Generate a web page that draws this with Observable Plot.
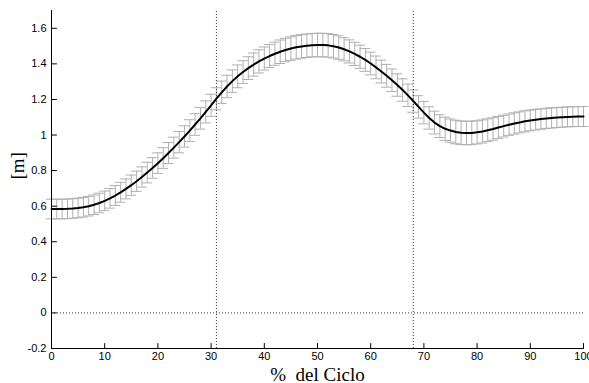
<!DOCTYPE html>
<html>
<head>
<meta charset="utf-8">
<script src="https://cdn.jsdelivr.net/npm/d3@7"></script>
<script src="https://cdn.jsdelivr.net/npm/@observablehq/plot@0.6"></script>
<style>
  html, body { margin: 0; padding: 0; background: #fff; }
  #chart svg { display: block; }
</style>
</head>
<body>
<div id="chart"></div>
<script>
// % of cycle (0..100)
const cyclePct = d3.range(0, 101);
// mean value [m], one per % of cycle
const meanValues = [
  0.584, 0.584, 0.584, 0.585, 0.587, 0.590, 0.594, 0.600, 0.608, 0.618,
  0.630, 0.644, 0.660, 0.678, 0.697, 0.718, 0.740, 0.764, 0.789, 0.815,
  0.842, 0.870, 0.899, 0.929, 0.960, 0.992, 1.025, 1.059, 1.094, 1.130,
  1.167, 1.204, 1.240, 1.273, 1.303, 1.330, 1.354, 1.376, 1.396, 1.414,
  1.430, 1.444, 1.457, 1.468, 1.478, 1.486, 1.493, 1.498, 1.502, 1.505,
  1.506, 1.506, 1.504, 1.499, 1.492, 1.482, 1.470, 1.456, 1.440, 1.422,
  1.402, 1.380, 1.357, 1.333, 1.308, 1.281, 1.253, 1.223, 1.191, 1.158,
  1.126, 1.096, 1.070, 1.050, 1.035, 1.025, 1.017, 1.013, 1.011, 1.012,
  1.015, 1.020, 1.027, 1.034, 1.042, 1.050, 1.058, 1.065, 1.071, 1.077,
  1.082, 1.086, 1.090, 1.093, 1.096, 1.098, 1.100, 1.102, 1.103, 1.104,
  1.104
];
// standard deviation (error bar half-height)
const sdValues = [
  0.055, 0.055, 0.055, 0.055, 0.055, 0.055, 0.055, 0.055, 0.055, 0.055,
  0.055, 0.055, 0.056, 0.056, 0.056, 0.057, 0.057, 0.057, 0.058, 0.058,
  0.058, 0.059, 0.059, 0.059, 0.060, 0.060, 0.061, 0.061, 0.061, 0.062,
  0.062, 0.062, 0.063, 0.063, 0.063, 0.064, 0.064, 0.064, 0.065, 0.065,
  0.065, 0.065, 0.065, 0.066, 0.066, 0.066, 0.066, 0.066, 0.066, 0.066,
  0.066, 0.066, 0.066, 0.066, 0.066, 0.065, 0.065, 0.065, 0.065, 0.064,
  0.064, 0.064, 0.064, 0.064, 0.063, 0.063, 0.063, 0.063, 0.063, 0.063,
  0.063, 0.063, 0.064, 0.064, 0.065, 0.065, 0.066, 0.066, 0.066, 0.066,
  0.065, 0.065, 0.064, 0.063, 0.062, 0.061, 0.060, 0.060, 0.059, 0.059,
  0.058, 0.058, 0.057, 0.057, 0.057, 0.056, 0.056, 0.056, 0.056, 0.056,
  0.056
];
// phase markers (% del ciclo)
const eventPct = [31, 68];
// tick values
const xTicks = [0, 10, 20, 30, 40, 50, 60, 70, 80, 90, 100];
const yTicks = [-0.2, 0, 0.2, 0.4, 0.6, 0.8, 1, 1.2, 1.4, 1.6];

const data = cyclePct.map((p, i) => ({p, m: meanValues[i], s: sdValues[i]}));

const barColor = "#b0b0b0";
const capHalf = 1; // cap half-width in % units
const serif = "'Liberation Serif', 'Times New Roman', serif";
// straight tick shape for vectors (no arrow head)
const tickShape = {draw(context, l) { context.moveTo(0, 0); context.lineTo(0, -l); }};

const chart = Plot.plot({
  width: 589,
  height: 383,
  marginLeft: 51,
  marginRight: 6,
  marginTop: 10,
  marginBottom: 35,
  style: {fontFamily: "'Liberation Sans', Arial, sans-serif", fontSize: "11px", color: "#000", background: "#fff"},
  x: {domain: [0, 100]},
  y: {domain: [-0.2, 1.7]},
  marks: [
    // error bars
    Plot.ruleX(data, {x: "p", y1: d => d.m - d.s, y2: d => d.m + d.s, stroke: barColor, strokeWidth: 1}),
    Plot.ruleY(data, {y: d => d.m - d.s, x1: d => d.p - capHalf, x2: d => d.p + capHalf, stroke: barColor, strokeWidth: 1}),
    Plot.ruleY(data, {y: d => d.m + d.s, x1: d => d.p - capHalf, x2: d => d.p + capHalf, stroke: barColor, strokeWidth: 1}),
    // dotted reference lines
    Plot.ruleY([0], {x1: 0, x2: 100, stroke: "#333", strokeDasharray: "1,2", strokeWidth: 1}),
    Plot.ruleX(eventPct, {y1: -0.2, y2: 1.7, stroke: "#333", strokeDasharray: "1,2", strokeWidth: 1}),
    // mean line
    Plot.line(data, {x: "p", y: "m", stroke: "#000", strokeWidth: 2}),
    // axes (labels only)
    Plot.axisX({ticks: xTicks, tickSize: 0, tickPadding: 4, tickFormat: d3.format("d"), label: null}),
    Plot.axisY({ticks: yTicks, tickSize: 0, tickPadding: 5, tickFormat: d => String(+d.toFixed(1)), label: null}),
    // inward tick marks
    Plot.vector(xTicks, {x: d => d, y: -0.2, length: 5, rotate: 0, anchor: "start", shape: tickShape, stroke: "#000", strokeWidth: 1}),
    Plot.vector(yTicks, {x: 0, y: d => d, length: 5, rotate: 90, anchor: "start", shape: tickShape, stroke: "#000", strokeWidth: 1}),
    // axis lines
    Plot.ruleX([0], {y1: -0.2, y2: 1.7, stroke: "#000", strokeWidth: 1}),
    Plot.ruleY([-0.2], {x1: 0, x2: 100, stroke: "#000", strokeWidth: 1}),
    // axis titles
    Plot.text(["%  del Ciclo"], {frameAnchor: "bottom", dy: 32, fontFamily: serif, fontSize: 19, fill: "#000"}),
    Plot.text(["[m]"], {frameAnchor: "left", dx: -34, rotate: -90, fontFamily: serif, fontSize: 19, fill: "#000"})
  ]
});
document.getElementById("chart").appendChild(chart);
</script>
</body>
</html>
